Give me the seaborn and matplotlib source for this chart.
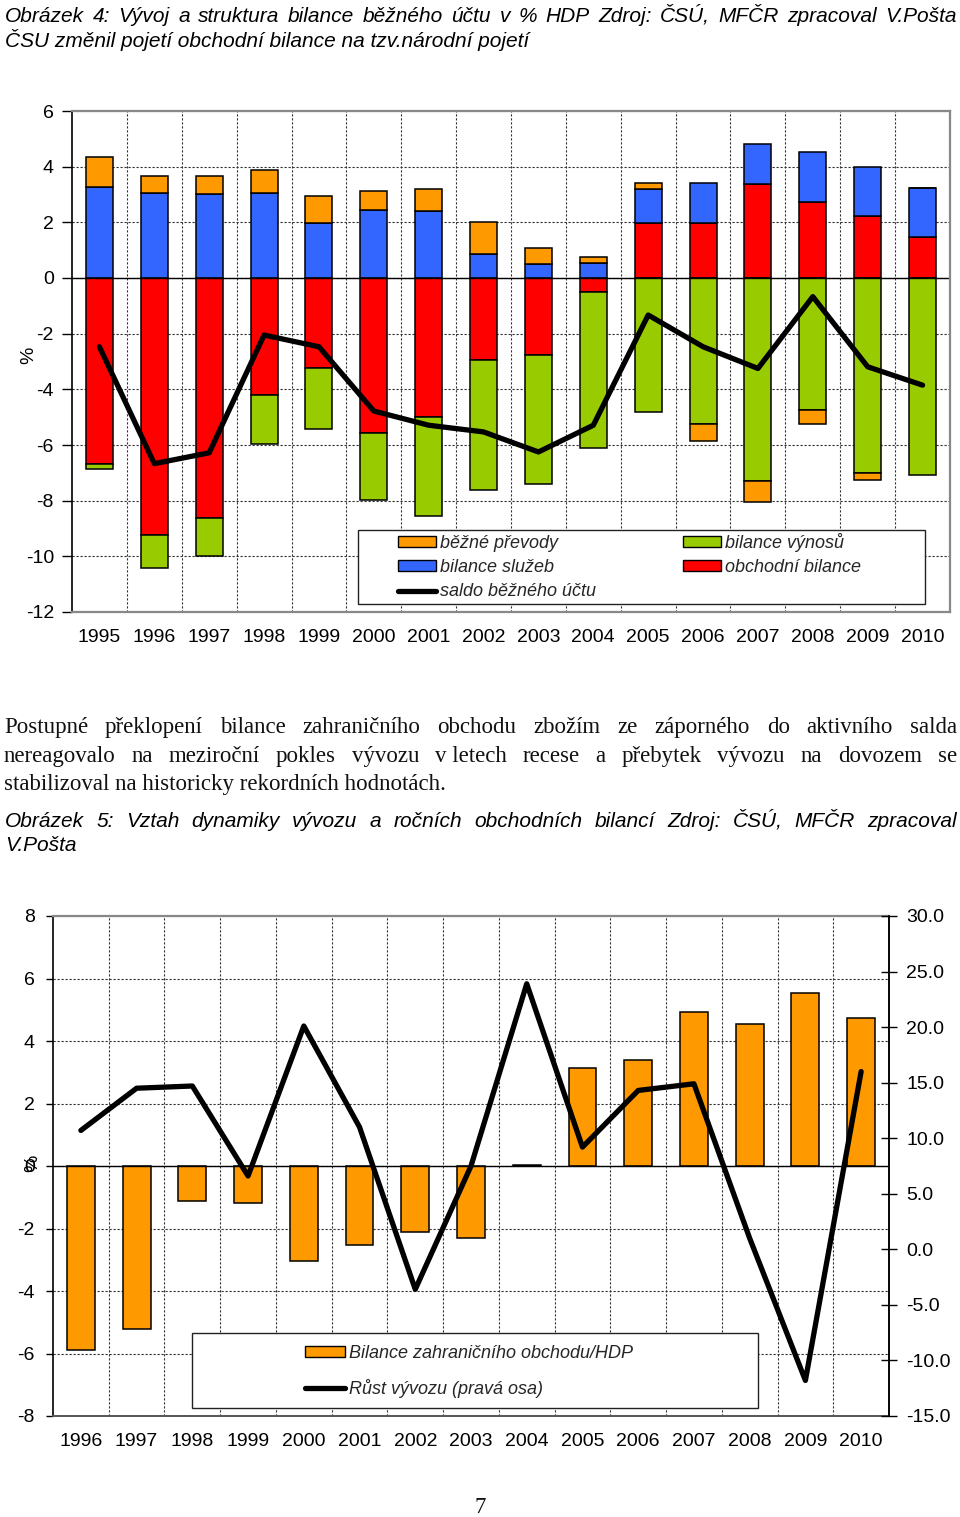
import matplotlib
matplotlib.use("Agg")
import matplotlib.pyplot as plt
import numpy as np
import pandas as pd
import seaborn as sns
from matplotlib.patches import Rectangle, Patch
from matplotlib.lines import Line2D

# ---------------- data: chart 1 (% of GDP) ----------------
years1 = [str(y) for y in range(1995, 2011)]
trade_balance = [-6.67, -9.24, -8.61, -4.22, -3.23, -5.56, -4.99, -2.93, -2.77, -0.51,
                 1.97, 1.99, 3.37, 2.72, 2.21, 1.46]
services_balance = [3.28, 3.07, 3.02, 3.07, 1.97, 2.45, 2.41, 0.85, 0.49, 0.53,
                    1.22, 1.42, 1.44, 1.82, 1.77, 1.77]
income_balance = [-0.21, -1.17, -1.38, -1.76, -2.21, -2.40, -3.57, -4.67, -4.64, -5.58,
                  -4.83, -5.23, -7.29, -4.75, -6.99, -7.09]
current_transfers = [1.06, 0.60, 0.65, 0.81, 0.96, 0.67, 0.78, 1.16, 0.60, 0.24,
                     0.24, -0.62, -0.76, -0.50, -0.25, 0.0]
current_account = [-2.47, -6.67, -6.28, -2.05, -2.47, -4.78, -5.29, -5.53, -6.25, -5.29,
                   -1.33, -2.47, -3.25, -0.67, -3.19, -3.85]

series1_names = ["obchodní bilance", "bilance služeb", "bilance výnosů", "běžné převody"]
series1_values = [trade_balance, services_balance, income_balance, current_transfers]
series1_colors = ["#FF0000", "#3366FF", "#99CC00", "#FF9900"]
line1_name = "saldo běžného účtu"

# ---------------- data: chart 2 ----------------
years2 = [str(y) for y in range(1996, 2011)]
trade_to_gdp = [-5.89, -5.23, -1.12, -1.17, -3.04, -2.52, -2.10, -2.30, 0.03,
                3.13, 3.38, 4.93, 4.53, 5.54, 4.73]
export_growth = [10.7, 14.5, 14.7, 6.6, 20.1, 11.0, -3.6, 7.5, 23.9,
                 9.2, 14.3, 14.9, 1.0, -11.8, 16.0]
bar2_name = "Bilance zahraničního obchodu/HDP"
line2_name = "Růst vývozu (pravá osa)"

# ---------------- texts ----------------
title1_l1 = "Obrázek 4: Vývoj a struktura bilance běžného účtu v % HDP Zdroj: ČSÚ, MFČR zpracoval V.Pošta"
title1_l2 = "ČSU změnil pojetí obchodní bilance na tzv.národní pojetí"
para = [
    ["Postupné", "překlopení", "bilance", "zahraničního", "obchodu", "zbožím", "ze", "záporného", "do", "aktivního", "salda"],
    ["nereagovalo", "na", "meziroční", "pokles", "vývozu", "v letech", "recese", "a", "přebytek", "vývozu", "na", "dovozem", "se"],
]
para_last = "stabilizoval na historicky rekordních hodnotách."
title2_l1 = "Obrázek 5: Vztah dynamiky vývozu a ročních obchodních bilancí Zdroj: ČSÚ, MFČR zpracoval"
title2_l2 = "V.Pošta"

# ---------------- style ----------------
sns.set_theme(style="white")
plt.rcParams["font.family"] = ["Liberation Sans", "DejaVu Sans"]
plt.rcParams["axes.unicode_minus"] = False

W, H = 960, 1517
fig = plt.figure(figsize=(W / 100, H / 100), dpi=100)
fig.patch.set_facecolor("white")

GRID = dict(color="#333333", linestyle=(0, (2, 1.6)), linewidth=0.8)

def axes_px(left, top, right, bottom):
    return fig.add_axes([left / W, 1 - bottom / H, (right - left) / W, (bottom - top) / H])

# ================= chart 1 =================
ax1 = axes_px(72, 111, 950, 612)
x1 = np.arange(len(years1))
pos = np.zeros(len(years1))
neg = np.zeros(len(years1))
for name, vals, col in zip(series1_names, series1_values, series1_colors):
    v = np.array(vals)
    bottom = np.where(v >= 0, pos, neg)
    ax1.bar(x1, v, bottom=bottom, width=0.49, color=col, edgecolor="black",
            linewidth=1.1, label=name, zorder=2)
    pos = np.where(v >= 0, pos + v, pos)
    neg = np.where(v < 0, neg + v, neg)
ax1.axhline(0, color="black", linewidth=1.0, zorder=2.5)
sns.lineplot(x=x1, y=current_account, color="black", linewidth=3.8, ax=ax1,
             zorder=4, label=line1_name, legend=False)
ax1.set_xlim(-0.5, len(years1) - 0.5)
ax1.set_ylim(-12, 6)
ax1.set_yticks(np.arange(-12, 7, 2))
ax1.set_xticks(x1)
ax1.set_xticklabels(years1)
ax1.set_xticks(np.arange(0.5, len(years1) - 1, 1), minor=True)
ax1.set_axisbelow(True)
ax1.yaxis.grid(True, which="major", **GRID)
ax1.xaxis.grid(True, which="minor", **GRID)
ax1.xaxis.grid(False, which="major")
ax1.tick_params(axis="x", which="both", length=0, pad=12, labelsize=14, colors="black")
ax1.tick_params(axis="y", length=7, width=1.0, pad=6, labelsize=14, direction="out",
                colors="black", left=True)
ax1.set_ylabel("%", fontsize=14, color="black")
ax1.yaxis.set_label_coords((37 - 72) / 878, (612 - 355) / 501)
for s in ["top", "right", "bottom"]:
    ax1.spines[s].set_color("#888888")
    ax1.spines[s].set_linewidth(1.6)
ax1.spines["left"].set_color("black")
ax1.spines["left"].set_linewidth(1.2)

# legend 1 (frame drawn as white box)
ax1.add_patch(Rectangle(((358 - 72) / 878, (612 - 604) / 501), (925 - 358) / 878, (604 - 530) / 501,
                        transform=ax1.transAxes, facecolor="white", edgecolor="#222222",
                        linewidth=1.0, zorder=5))
h = {n: Patch(facecolor=c, edgecolor="black", linewidth=1.0) for n, c in zip(series1_names, series1_colors)}
hl = Line2D([0], [0], color="black", linewidth=3.8)
handles1 = [h["běžné převody"], h["bilance služeb"], hl, h["bilance výnosů"], h["obchodní bilance"]]
labels1 = ["běžné převody", "bilance služeb", line1_name, "bilance výnosů", "obchodní bilance"]
leg1 = ax1.legend(handles1, labels1, ncol=2, loc="upper left",
                  bbox_to_anchor=((398 - 72) / 878, (612 - 533) / 501), bbox_transform=ax1.transAxes,
                  frameon=False, borderpad=0, borderaxespad=0, handlelength=2.1, handleheight=0.55,
                  handletextpad=0.2, labelspacing=0.4, columnspacing=4.85,
                  prop=dict(family="Liberation Sans", style="italic", size=13))
leg1.set_zorder(6)

# ================= chart 2 =================
ax2 = axes_px(53, 916, 889, 1416)
sns.barplot(x=years2, y=trade_to_gdp, color="#FF9900", saturation=1, width=0.5,
            edgecolor="black", linewidth=1.1, ax=ax2, zorder=2)
ax2.axhline(0, color="black", linewidth=1.0, zorder=2.5)
ax2.set_xlim(-0.5, len(years2) - 0.5)
ax2.set_ylim(-8, 8)
ax2.set_yticks(np.arange(-8, 9, 2))
ax2.set_xticks(np.arange(len(years2)))
ax2.set_xticklabels(years2)
ax2.set_xticks(np.arange(0.5, len(years2) - 1, 1), minor=True)
ax2.set_axisbelow(True)
ax2.yaxis.grid(True, which="major", **GRID)
ax2.xaxis.grid(True, which="minor", **GRID)
ax2.xaxis.grid(False, which="major")
ax2.tick_params(axis="x", which="both", length=0, pad=12, labelsize=14, colors="black")
ax2.tick_params(axis="y", length=5, width=1.0, pad=8, labelsize=14, direction="out",
                colors="black", left=True)
ax2.set_xlabel("")
ax2.set_ylabel("%", fontsize=14, color="black")
ax2.yaxis.set_label_coords((41 - 53) / 836, (1416 - 1163) / 500)
ax2.spines["top"].set_color("#888888")
ax2.spines["top"].set_linewidth(1.6)
ax2.spines["bottom"].set_color("#555555")
ax2.spines["bottom"].set_linewidth(1.4)
ax2.spines["left"].set_color("black")
ax2.spines["left"].set_linewidth(1.2)

ax2b = ax2.twinx()
sns.lineplot(x=np.arange(len(years2)), y=export_growth, color="black", linewidth=3.8,
             ax=ax2b, zorder=4, legend=False)
ax2b.set_ylim(-15, 30)
ax2b.set_yticks(np.arange(-15, 31, 5))
ax2b.set_yticklabels([f"{v:.1f}" for v in np.arange(-15, 31, 5)])
ax2b.set_ylabel("")
ax2b.tick_params(axis="y", direction="inout", length=12, width=1.0, pad=6.5,
                 labelsize=14, colors="black", right=True)
ax2b.spines["right"].set_color("black")
ax2b.spines["right"].set_linewidth(1.2)
for s in ["top", "left", "bottom"]:
    ax2b.spines[s].set_visible(False)
ax2.set_xlim(-0.5, len(years2) - 0.5)

ax2b.add_patch(Rectangle(((192 - 53) / 836, (1416 - 1408) / 500), (758 - 192) / 836, (1408 - 1333) / 500,
                         transform=ax2b.transAxes, facecolor="white", edgecolor="#222222",
                         linewidth=1.0, zorder=5))
handles2 = [Patch(facecolor="#FF9900", edgecolor="black", linewidth=1.0),
            Line2D([0], [0], color="black", linewidth=3.8)]
leg2 = ax2b.legend(handles2, [bar2_name, line2_name], loc="upper left",
                   bbox_to_anchor=((305 - 53) / 836, (1416 - 1345) / 500), bbox_transform=ax2b.transAxes,
                   frameon=False, borderpad=0, borderaxespad=0, handlelength=2.2, handleheight=0.55,
                   handletextpad=0.25, labelspacing=0.95,
                   prop=dict(family="Liberation Sans", style="italic", size=13))
leg2.set_zorder(6)

# ================= page text =================
renderer = fig.canvas.get_renderer()

def put_line(words, y_base, x0=5, x1=957, justify=True, **kw):
    if not justify:
        fig.text(x0 / W, 1 - y_base / H, " ".join(words) if isinstance(words, list) else words,
                 ha="left", va="baseline", **kw)
        return
    objs = [fig.text(0, 1 - y_base / H, w, ha="left", va="baseline", **kw) for w in words]
    widths = [o.get_window_extent(renderer).width for o in objs]
    gap = (x1 - x0 - sum(widths)) / (len(words) - 1)
    x = x0
    for o, w in zip(objs, widths):
        o.set_x(x / W)
        x += w + gap

sans_it = dict(family=["Liberation Sans", "DejaVu Sans"], style="italic", size=15, color="black")
serif = dict(family=["Liberation Serif", "DejaVu Serif"], size=16.5, color="#111111")

put_line(title1_l1.split(" "), 22, **sans_it)
put_line(title1_l2, 47, justify=False, **sans_it)
put_line(para[0], 733, x0=4, **serif)
put_line(para[1], 762, x0=4, **serif)
put_line(para_last, 790, x0=4, justify=False, **serif)
put_line(title2_l1.split(" "), 827, **sans_it)
put_line(title2_l2, 851, justify=False, **sans_it)
fig.text(480 / W, 1 - 1513 / H, "7", ha="center", va="baseline", **serif)

fig.savefig("out.png", dpi=100, facecolor="white")
